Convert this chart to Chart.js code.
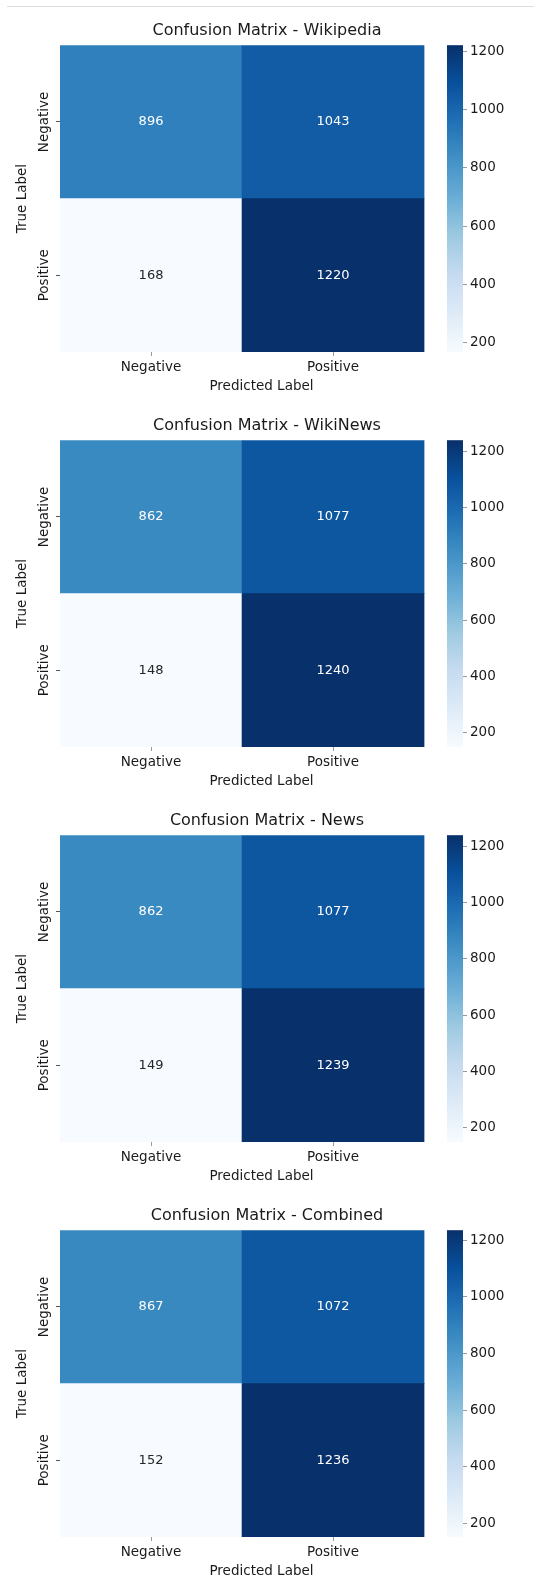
<!DOCTYPE html>
<html>
<head>
<meta charset="utf-8">
<script src="https://cdn.jsdelivr.net/npm/chart.js@4.4.1/dist/chart.umd.min.js"></script>
<style>
  html, body { margin: 0; padding: 0; background: #fff; }
  #page { position: relative; width: 534px; height: 1582px; overflow: hidden; }
  .rule { position: absolute; left: 7px; right: 0; top: 6px; border-top: 1px solid #dedede; }
  .panel { position: absolute; left: 0; width: 534px; height: 395px; }
</style>
</head>
<body>
<div id="page">
  <div class="rule"></div>
  <div class="panel" style="top:0px"><canvas id="cm-0" width="534" height="395"></canvas></div>
  <div class="panel" style="top:395px"><canvas id="cm-1" width="534" height="395"></canvas></div>
  <div class="panel" style="top:790px"><canvas id="cm-2" width="534" height="395"></canvas></div>
  <div class="panel" style="top:1185px"><canvas id="cm-3" width="534" height="395"></canvas></div>
</div>
<script>
// labels + values
const CLASS_LABELS = ["Negative", "Positive"];
const DATASET_NAMES = ["Wikipedia", "WikiNews", "News", "Combined"];
const CB_TICKS = [200, 400, 600, 800, 1000, 1200];

// rows = true label, cols = predicted label
const CM_WIKIPEDIA = [[896, 1043], [168, 1220]];
const CM_WIKINEWS = [[862, 1077], [148, 1240]];
const CM_NEWS = [[862, 1077], [149, 1239]];
const CM_COMBINED = [[867, 1072], [152, 1236]];

const MATRICES = [CM_WIKIPEDIA, CM_WIKINEWS, CM_NEWS, CM_COMBINED];

// matplotlib "Blues"
const BLUES = ["#f7fbff", "#deebf7", "#c6dbef", "#9ecae1", "#6baed6", "#4292c6", "#2171b5", "#08519c", "#08306b"];

const FONT = "'DejaVu Sans', sans-serif";
const TEXT = "#1a1a1a";
const TICK_FONT = { family: FONT, size: 13.5 };

// x extent: heatmap is 0..2, colorbar sits at the right end of the plot area
const CB_START = 2.126;
const X_MAX = 2.214;

function hexToRgb(h) {
    return [1, 3, 5].map((i) => parseInt(h.slice(i, i + 2), 16));
}

function blues(t) {
    t = Math.max(0, Math.min(1, t));
    const pos = t * (BLUES.length - 1);
    const i = Math.min(Math.floor(pos), BLUES.length - 2);
    const f = pos - i;
    const a = hexToRgb(BLUES[i]), b = hexToRgb(BLUES[i + 1]);
    const c = a.map((v, k) => Math.round(v + (b[k] - v) * f));
    return `rgb(${c[0]}, ${c[1]}, ${c[2]})`;
}

function luminance(rgbStr) {
    const c = rgbStr.match(/\d+/g).map((v) => {
        v = v / 255;
        return v <= 0.03928 ? v / 12.92 : Math.pow((v + 0.055) / 1.055, 2.4);
    });
    return 0.2126 * c[0] + 0.7152 * c[1] + 0.0722 * c[2];
}

const annotatePlugin = {
    id: "annotate",
    afterDatasetsDraw(chart) {
        const meta = chart.getDatasetMeta(0);
        const ds = chart.data.datasets[0];
        const ctx = chart.ctx;
        ctx.save();
        ctx.font = `13px ${FONT}`;
        ctx.textAlign = "center";
        ctx.textBaseline = "middle";
        meta.data.forEach((el, i) => {
            const { x, y, base } = el.getProps(["x", "y", "base"], true);
            ctx.fillStyle = luminance(ds.backgroundColor[i]) > 0.408 ? "#262626" : "#ffffff";
            ctx.fillText(String(ds.data[i].v), x, (y + base) / 2);
        });
        ctx.restore();
    },
};

const rowLabelPlugin = {
    id: "rowLabels",
    afterDraw(chart) {
        const ys = chart.scales.y;
        const ctx = chart.ctx;
        ctx.save();
        ctx.font = `13.5px ${FONT}`;
        ctx.fillStyle = TEXT;
        ctx.textAlign = "center";
        ctx.textBaseline = "middle";
        ys.ticks.forEach((t, i) => {
            ctx.save();
            ctx.translate(ys.right - 16, ys.getPixelForValue(t.value));
            ctx.rotate(-Math.PI / 2);
            ctx.fillText(CLASS_LABELS[i], 0, 0);
            ctx.restore();
        });
        ctx.restore();
    },
};

const colorbarPlugin = {
    id: "colorbar",
    beforeDatasetsDraw(chart) {
        const cb = chart.scales.cb;
        const ctx = chart.ctx;
        const x0 = chart.scales.x.getPixelForValue(CB_START);
        const x1 = chart.scales.x.getPixelForValue(X_MAX);
        const top = cb.getPixelForValue(cb.max);
        const bottom = cb.getPixelForValue(cb.min);
        const grad = ctx.createLinearGradient(0, bottom, 0, top);
        BLUES.forEach((c, i) => grad.addColorStop(i / (BLUES.length - 1), c));
        ctx.save();
        ctx.fillStyle = grad;
        ctx.fillRect(x0, top, x1 - x0, bottom - top);
        ctx.restore();
    },
};

function drawMatrix(canvasId, name, matrix) {
    const flat = matrix.flat();
    const vmin = Math.min(...flat);
    const vmax = Math.max(...flat);
    const nRows = matrix.length;

    const cells = [];
    matrix.forEach((row, r) =>
        row.forEach((v, c) => cells.push({ x: c + 0.5, y: [nRows - r - 1, nRows - r], v }))
    );

    return new Chart(document.getElementById(canvasId).getContext("2d"), {
        type: "bar",
        data: {
            datasets: [{
                data: cells,
                backgroundColor: cells.map((c) => blues((c.v - vmin) / (vmax - vmin))),
                borderWidth: 0,
                categoryPercentage: 1,
                barPercentage: 1,
            }],
        },
        options: {
            responsive: false,
            animation: false,
            events: [],
            layout: { padding: 0 },
            plugins: {
                legend: { display: false },
                tooltip: { enabled: false },
                title: {
                    display: true,
                    text: `Confusion Matrix - ${name}`,
                    color: TEXT,
                    font: { family: FONT, size: 16, weight: "normal" },
                    padding: { top: 21, bottom: 5 },
                },
            },
            scales: {
                x: {
                    type: "linear",
                    min: 0,
                    max: X_MAX,
                    bounds: "data",
                    offset: false,
                    afterBuildTicks: (s) => { s.ticks = CLASS_LABELS.map((_, i) => ({ value: i + 0.5 })); },
                    afterFit: (s) => { s.height = 43; },
                    ticks: { callback: (v, i) => CLASS_LABELS[i], font: TICK_FONT, color: TEXT, padding: 3, maxRotation: 0 },
                    grid: { drawOnChartArea: false, offset: false, tickLength: 4, tickColor: "#999" },
                    border: { display: false },
                    title: { display: true, text: "Predicted Label", color: TEXT, font: TICK_FONT, padding: 0 },
                },
                y: {
                    type: "linear",
                    min: 0,
                    max: nRows,
                    bounds: "data",
                    afterBuildTicks: (s) => { s.ticks = CLASS_LABELS.map((_, i) => ({ value: nRows - i - 0.5 })); },
                    afterFit: (s) => { s.width = 60; },
                    ticks: { display: false },
                    grid: { drawOnChartArea: false, tickLength: 4, tickColor: "#555" },
                    border: { display: false },
                    title: { display: true, text: "True Label", color: TEXT, font: TICK_FONT, padding: { top: 14, bottom: 0 } },
                },
                cb: {
                    type: "linear",
                    position: "right",
                    min: vmin,
                    max: vmax,
                    bounds: "data",
                    afterBuildTicks: (s) => { s.ticks = CB_TICKS.map((v) => ({ value: v })); },
                    afterFit: (s) => { s.width = 71; },
                    ticks: { callback: (v) => String(v), font: TICK_FONT, color: TEXT, padding: 3 },
                    grid: { drawOnChartArea: false, tickLength: 4, tickColor: "#999" },
                    border: { display: false },
                },
            },
        },
        plugins: [colorbarPlugin, annotatePlugin, rowLabelPlugin],
    });
}

MATRICES.forEach((m, i) => drawMatrix(`cm-${i}`, DATASET_NAMES[i], m));
</script>
</body>
</html>
